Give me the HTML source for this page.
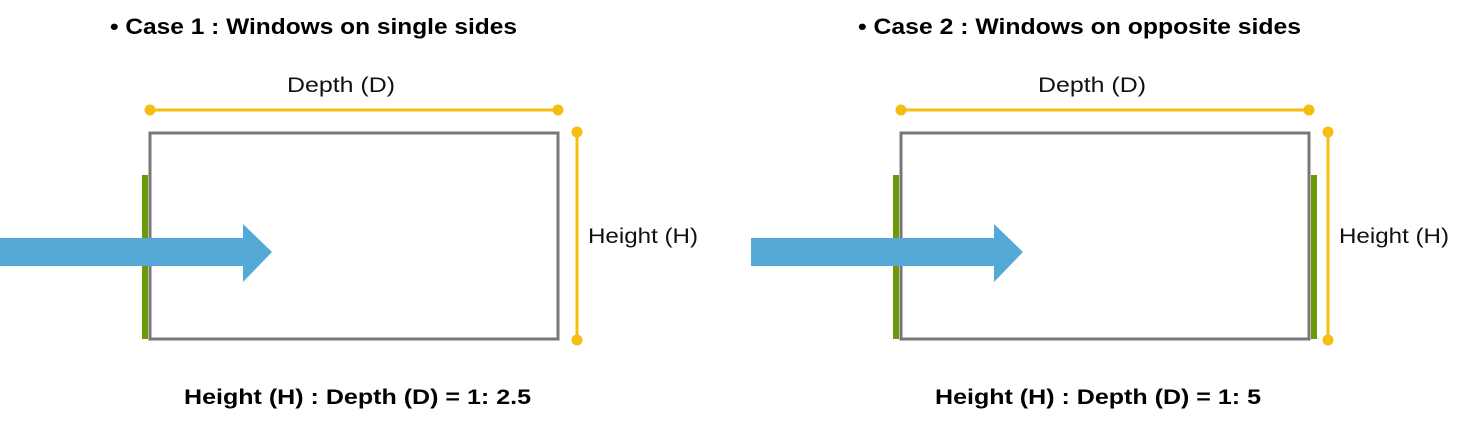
<!DOCTYPE html>
<html><head><meta charset="utf-8"><style>html,body{margin:0;padding:0;background:#fff}svg{display:block}</style></head>
<body>
<svg width="1467" height="426" viewBox="0 0 1467 426" xmlns="http://www.w3.org/2000/svg" font-family="Liberation Sans, sans-serif">
<g id="c1">
  <text x="110" y="34" font-size="22" font-weight="bold" fill="#000" textLength="407" lengthAdjust="spacingAndGlyphs">• Case 1 : Windows on single sides</text>
  <text x="287" y="92" font-size="21" fill="#111" textLength="108" lengthAdjust="spacingAndGlyphs">Depth (D)</text>
  <line x1="150" y1="110" x2="558" y2="110" stroke="#f5bd0f" stroke-width="3"/>
  <circle cx="150" cy="110" r="5.5" fill="#f5bd0f"/><circle cx="558" cy="110" r="5.5" fill="#f5bd0f"/>
  <rect x="150" y="133" width="408" height="206" fill="none" stroke="#777" stroke-width="3"/>
  <rect x="142" y="175" width="6" height="164" fill="#6a9a0a"/>
  <polygon points="0,238 243,238 243,224 272,252 243,282 243,266 0,266" fill="#55a9d6"/>
  <line x1="577" y1="132" x2="577" y2="340" stroke="#f5bd0f" stroke-width="3"/>
  <circle cx="577" cy="132" r="5.5" fill="#f5bd0f"/><circle cx="577" cy="340" r="5.5" fill="#f5bd0f"/>
  <text x="588" y="243" font-size="21" fill="#111" textLength="110" lengthAdjust="spacingAndGlyphs">Height (H)</text>
  <text x="184" y="404" font-size="21" font-weight="bold" fill="#000" textLength="347" lengthAdjust="spacingAndGlyphs">Height (H) : Depth (D) = 1: 2.5</text>
</g>
<g>
  <text x="858" y="34" font-size="22" font-weight="bold" fill="#000" textLength="443" lengthAdjust="spacingAndGlyphs">• Case 2 : Windows on opposite sides</text>
  <text x="1038" y="92" font-size="21" fill="#111" textLength="108" lengthAdjust="spacingAndGlyphs">Depth (D)</text>
  <line x1="901" y1="110" x2="1309" y2="110" stroke="#f5bd0f" stroke-width="3"/>
  <circle cx="901" cy="110" r="5.5" fill="#f5bd0f"/><circle cx="1309" cy="110" r="5.5" fill="#f5bd0f"/>
  <rect x="901" y="133" width="408" height="206" fill="none" stroke="#777" stroke-width="3"/>
  <rect x="893" y="175" width="6" height="164" fill="#6a9a0a"/>
  <rect x="1311" y="175" width="6" height="164" fill="#6a9a0a"/>
  <polygon points="751,238 994,238 994,224 1023,252 994,282 994,266 751,266" fill="#55a9d6"/>
  <line x1="1328" y1="132" x2="1328" y2="340" stroke="#f5bd0f" stroke-width="3"/>
  <circle cx="1328" cy="132" r="5.5" fill="#f5bd0f"/><circle cx="1328" cy="340" r="5.5" fill="#f5bd0f"/>
  <text x="1339" y="243" font-size="21" fill="#111" textLength="110" lengthAdjust="spacingAndGlyphs">Height (H)</text>
  <text x="935" y="404" font-size="21" font-weight="bold" fill="#000" textLength="326" lengthAdjust="spacingAndGlyphs">Height (H) : Depth (D) = 1: 5</text>
</g>
</svg>
</body></html>
